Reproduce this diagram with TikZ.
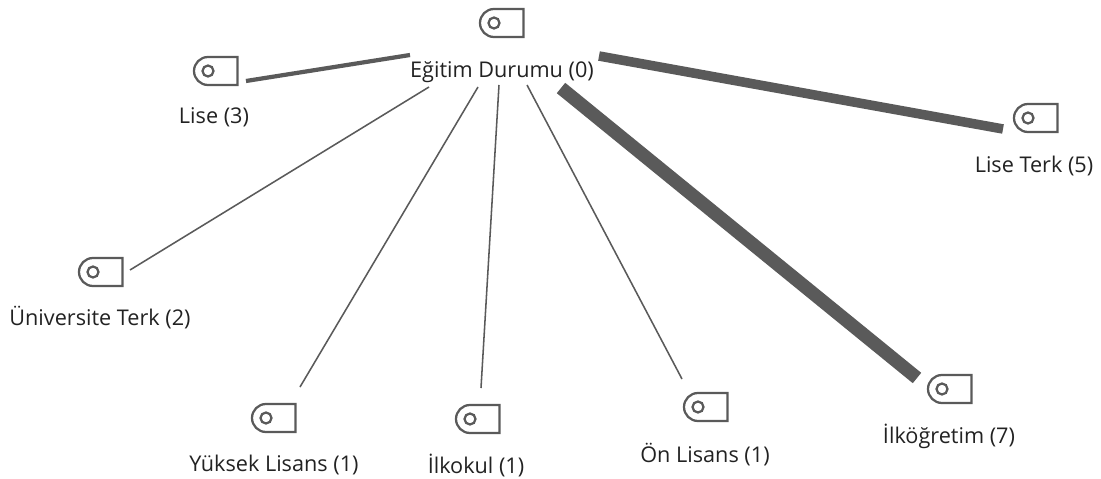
\documentclass[tikz,border=0pt]{standalone}
\usepackage{fontspec}
\setmainfont{Open Sans}
\definecolor{linkgray}{HTML}{5A5A5A}
\definecolor{labelgray}{HTML}{222222}
\tikzset{
	tagicon/.pic={
		\draw [linkgray,line width=1.6pt] (21.5,-14) -- (21.5,14) -- (-8,14) arc (90:270:14) -- cycle;
		\draw [linkgray,line width=1.6pt] (-8,0) circle (5.5);
	},
	nodelabel/.style={text=labelgray,font=\fontsize{15.4pt}{17pt}\selectfont,inner sep=0pt},
	thinlink/.style={linkgray,line width=1.1pt},
}
\begin{document}
\begin{tikzpicture}[x=0.025cm,y=-0.025cm]
		\useasboundingbox (0,0) rectangle (1101,479);
		% icons
		\pic at (502,23) {tagicon};
		\pic at (216,71) {tagicon};
		\pic at (1036,118) {tagicon};
		\pic at (101,272) {tagicon};
		\pic at (274,418) {tagicon};
		\pic at (478,419) {tagicon};
		\pic at (706,407) {tagicon};
		\pic at (950,389) {tagicon};
		% labels
		\node [nodelabel] (egitim) at (502,72) {Eğitim Durumu (0)};
		\node [nodelabel] (lise) at (214,117) {Lise (3)};
		\node [nodelabel] (liseterk) at (1034,166) {Lise Terk (5)};
		\node [nodelabel] (universite) at (100,318) {Üniversite Terk (2)};
		\node [nodelabel] (yuksek) at (274,465) {Yüksek Lisans (1)};
		\node [nodelabel] (ilkokul) at (476,465) {İlkokul (1)};
		\node [nodelabel] (onlisans) at (705,455) {Ön Lisans (1)};
		\node [nodelabel] (ilkogretim) at (949,436) {İlköğretim (7)};
		% link ends
		\coordinate (a1) at (410,55);
		\coordinate (a2) at (246,81);
		\coordinate (b1) at (599,56);
		\coordinate (b2) at (1003,129);
		\coordinate (c1) at (561,88);
		\coordinate (c2) at (917,378);
		\coordinate (d1) at (429,87);
		\coordinate (d2) at (130,270);
		\coordinate (e1) at (478,87);
		\coordinate (e2) at (300,387);
		\coordinate (f1) at (499,85);
		\coordinate (f2) at (481,388);
		\coordinate (g1) at (527,85);
		\coordinate (g2) at (682,379);
		% links
		\draw [linkgray,line width=3pt] (a1) -- (a2);
		\draw [linkgray,line width=6.8pt] (b1) -- (b2);
		\draw [linkgray,line width=9.5pt] (c1) -- (c2);
		\draw [thinlink] (d1) -- (d2);
		\draw [thinlink] (e1) -- (e2);
		\draw [thinlink] (f1) -- (f2);
		\draw [thinlink] (g1) -- (g2);
\end{tikzpicture}
\end{document}
